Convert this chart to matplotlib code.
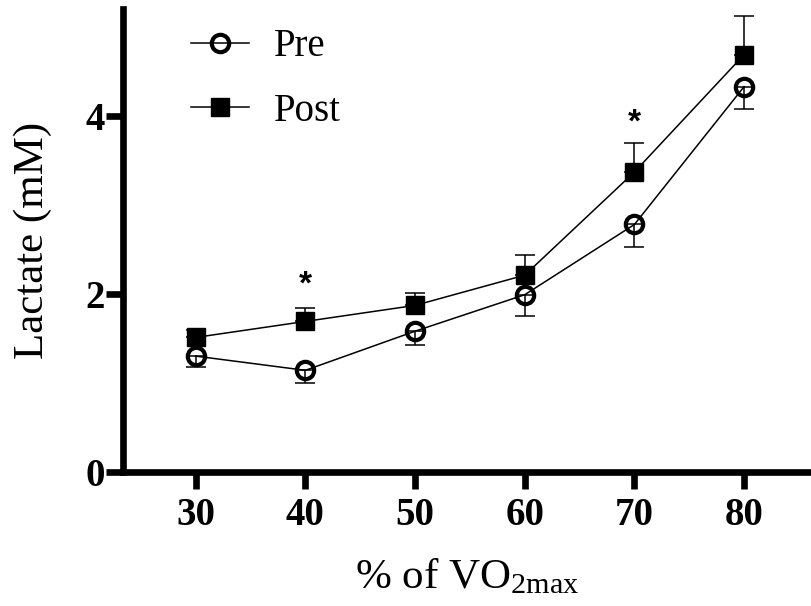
import numpy as np
import matplotlib
matplotlib.use("Agg")
import matplotlib.pyplot as plt

# data
intensity = [30, 40, 50, 60, 70, 80]
pre_mean = [1.30, 1.14, 1.58, 1.99, 2.78, 4.33]
pre_sem = [0.12, 0.14, 0.16, 0.24, 0.25, 0.25]
post_mean = [1.51, 1.69, 1.87, 2.21, 3.37, 4.69]
post_sem = [0.08, 0.15, 0.14, 0.23, 0.33, 0.43]
sig_x = [40, 70]
sig_y = [2.10, 3.92]
xticks = [30, 40, 50, 60, 70, 80]
yticks = [0, 2, 4]

plt.rcParams.update(
    {
        "font.family": "Liberation Serif",
        "mathtext.fontset": "custom",
        "mathtext.rm": "Liberation Serif",
        "mathtext.it": "Liberation Serif:italic",
        "mathtext.bf": "Liberation Serif:bold",
    }
)

fig = plt.figure(figsize=(8.11, 6.06), dpi=100)
ax = fig.add_axes([123.3 / 811, 1 - 471.7 / 606, 1 - 123.3 / 811, (471.7 - 9.3) / 606])

# Pre: lower error bars only, open circles
ax.errorbar(
    intensity, pre_mean, yerr=[pre_sem, np.zeros(len(pre_sem))],
    fmt="none", ecolor="black", elinewidth=1.1, capsize=7, capthick=1.1, zorder=2,
)
ax.plot(
    intensity, pre_mean, color="black", lw=1.1, marker="o", ms=12.5,
    mfc="none", mec="black", mew=3.0, label="Pre", zorder=3,
)
# Post: upper error bars only, filled squares
ax.errorbar(
    intensity, post_mean, yerr=[np.zeros(len(post_sem)), post_sem],
    fmt="none", ecolor="black", elinewidth=1.1, capsize=7, capthick=1.1, zorder=2,
)
ax.plot(
    intensity, post_mean, color="black", lw=1.1, marker="s", ms=13.5,
    mfc="black", mec="black", label="Post", zorder=3,
)

for x, y in zip(sig_x, sig_y):
    ax.text(x, y, "*", ha="center", va="center", fontsize=24,
            family="Liberation Sans", fontweight="bold")

ax.set_xlim(23.4, 86.1)
ax.set_ylim(0, 5.2)
ax.set_xticks(xticks)
ax.set_yticks(yticks)
ax.set_xticklabels([str(t) for t in xticks], fontweight="bold", fontsize=28)
ax.set_yticklabels([str(t) for t in yticks], fontweight="bold", fontsize=28)
ax.tick_params(axis="both", width=4.8, length=12, direction="out")
ax.tick_params(axis="x", pad=6)
ax.tick_params(axis="y", pad=1)

for side in ["top", "right"]:
    ax.spines[side].set_visible(False)
for side in ["left", "bottom"]:
    ax.spines[side].set_linewidth(4.8)

ax.set_ylabel("Lactate (mM)", fontsize=31, labelpad=24)
ax.set_xlabel("% of VO$_{\\mathrm{2max}}$", fontsize=31, labelpad=17)

ax.legend(
    loc="upper left", bbox_to_anchor=(0.047, 1.035), frameon=False, fontsize=28,
    handlelength=1.5, handletextpad=0.64, labelspacing=0.71,
)

fig.savefig("out.png", dpi=100)
